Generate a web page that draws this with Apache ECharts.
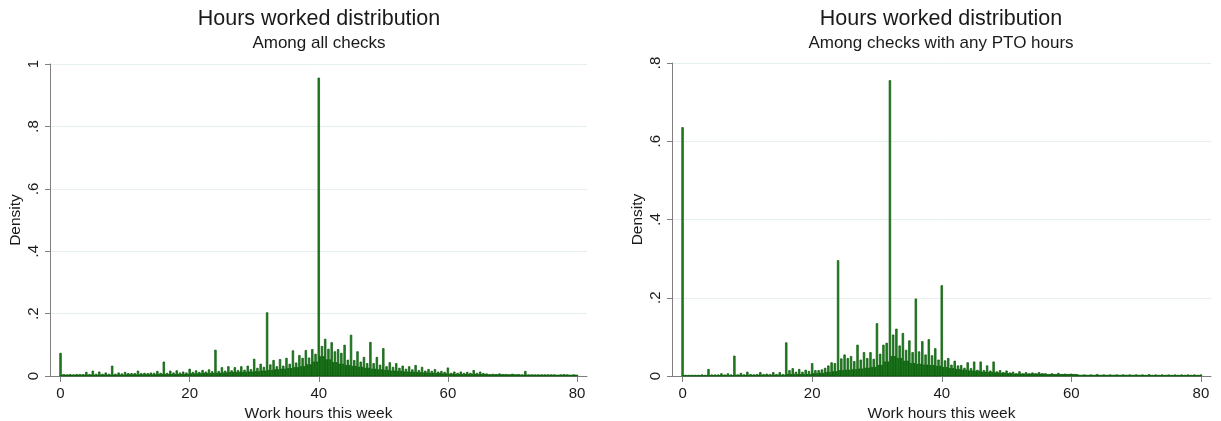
<!DOCTYPE html>
<html>
<head>
<meta charset="utf-8">
<script src="https://cdn.jsdelivr.net/npm/echarts@6/dist/echarts.min.js"></script>
<style>
  html, body { margin: 0; padding: 0; background: #fff; }
  #chart { width: 1221px; height: 421px; }
</style>
</head>
<body>
<div id="chart"></div>
<script>
// Histogram bin width (hours); each hour h has bins at h, h+.25, h+.5, h+.75
const BIN = 0.25;
const xTicks = [0, 20, 40, 60, 80];

// ---- Among all checks ----
// density at whole hours 0..80
const allWhole = [
  0.073, 0.004, 0.004, 0.005, 0.012, 0.016, 0.013, 0.010, 0.032, 0.010,
  0.012, 0.008, 0.016, 0.009, 0.010, 0.015, 0.045, 0.016, 0.017, 0.013,
  0.022, 0.017, 0.018, 0.020, 0.083, 0.027, 0.030, 0.027, 0.030, 0.032,
  0.054, 0.038, 0.203, 0.050, 0.053, 0.057, 0.081, 0.066, 0.082, 0.085,
  0.955, 0.118, 0.107, 0.085, 0.099, 0.131, 0.078, 0.060, 0.108, 0.060,
  0.088, 0.043, 0.040, 0.032, 0.030, 0.034, 0.028, 0.021, 0.021, 0.015,
  0.026, 0.013, 0.013, 0.012, 0.018, 0.013, 0.007, 0.006, 0.007, 0.005,
  0.006, 0.005, 0.015, 0.004, 0.004, 0.004, 0.004, 0.003, 0.005, 0.003,
  0.003
];
// density at half hours 0.5..79.5
const allHalf = [
  0.005, 0.005, 0.005, 0.005, 0.005, 0.006, 0.006, 0.006, 0.006, 0.007,
  0.008, 0.008, 0.008, 0.008, 0.009, 0.009, 0.009, 0.010, 0.010, 0.010,
  0.012, 0.012, 0.013, 0.014, 0.015, 0.016, 0.017, 0.018, 0.019, 0.021,
  0.025, 0.028, 0.036, 0.030, 0.032, 0.038, 0.042, 0.057, 0.058, 0.070,
  0.095, 0.086, 0.078, 0.073, 0.051, 0.050, 0.045, 0.040, 0.040, 0.035,
  0.030, 0.028, 0.025, 0.022, 0.020, 0.018, 0.016, 0.015, 0.013, 0.012,
  0.009, 0.009, 0.009, 0.009, 0.009, 0.008, 0.005, 0.005, 0.005, 0.004,
  0.004, 0.004, 0.004, 0.004, 0.004, 0.004, 0.004, 0.004, 0.004, 0.004
];
// density at quarter hours (h+.25 and h+.75)
const allQuarter = [
  0.003, 0.003, 0.003, 0.003, 0.003, 0.003, 0.003, 0.003, 0.003, 0.003,
  0.004, 0.004, 0.004, 0.004, 0.004, 0.005, 0.005, 0.005, 0.005, 0.005,
  0.007, 0.007, 0.008, 0.008, 0.009, 0.010, 0.011, 0.012, 0.012, 0.013,
  0.014, 0.016, 0.018, 0.020, 0.022, 0.024, 0.027, 0.030, 0.036, 0.045,
  0.062, 0.052, 0.043, 0.038, 0.034, 0.031, 0.028, 0.025, 0.022, 0.020,
  0.018, 0.016, 0.015, 0.013, 0.012, 0.011, 0.010, 0.009, 0.008, 0.007,
  0.006, 0.005, 0.005, 0.005, 0.005, 0.005, 0.004, 0.004, 0.004, 0.004,
  0.004, 0.003, 0.003, 0.003, 0.003, 0.003, 0.003, 0.003, 0.003, 0.003
];

// ---- Among checks with any PTO hours ----
const ptoWhole = [
  0.635, 0.002, 0.002, 0.003, 0.017, 0.003, 0.006, 0.006, 0.051, 0.007,
  0.010, 0.003, 0.009, 0.005, 0.009, 0.009, 0.085, 0.019, 0.017, 0.015,
  0.032, 0.014, 0.020, 0.034, 0.295, 0.054, 0.050, 0.079, 0.060, 0.060,
  0.134, 0.079, 0.755, 0.120, 0.109, 0.090, 0.197, 0.088, 0.093, 0.070,
  0.231, 0.045, 0.038, 0.027, 0.034, 0.036, 0.036, 0.026, 0.036, 0.014,
  0.013, 0.010, 0.011, 0.009, 0.008, 0.009, 0.006, 0.006, 0.007, 0.005,
  0.005, 0.003, 0.003, 0.003, 0.004, 0.003, 0.003, 0.003, 0.003, 0.003,
  0.003, 0.003, 0.004, 0.003, 0.003, 0.003, 0.003, 0.003, 0.003, 0.003,
  0.003
];
const ptoHalf = [
  0.002, 0.002, 0.002, 0.002, 0.003, 0.003, 0.003, 0.003, 0.003, 0.003,
  0.004, 0.004, 0.004, 0.004, 0.004, 0.004, 0.014, 0.010, 0.010, 0.012,
  0.014, 0.016, 0.026, 0.032, 0.044, 0.045, 0.037, 0.041, 0.045, 0.043,
  0.056, 0.084, 0.105, 0.077, 0.066, 0.060, 0.062, 0.054, 0.052, 0.041,
  0.039, 0.028, 0.026, 0.020, 0.019, 0.015, 0.014, 0.013, 0.011, 0.009,
  0.008, 0.006, 0.006, 0.006, 0.006, 0.006, 0.004, 0.004, 0.004, 0.004,
  0.004, 0.002, 0.002, 0.002, 0.002, 0.002, 0.002, 0.002, 0.002, 0.002,
  0.002, 0.002, 0.002, 0.002, 0.002, 0.002, 0.002, 0.002, 0.002, 0.002
];
const ptoQuarter = [
  0.001, 0.001, 0.001, 0.001, 0.001, 0.001, 0.001, 0.001, 0.002, 0.002,
  0.002, 0.002, 0.002, 0.002, 0.002, 0.002, 0.004, 0.004, 0.004, 0.004,
  0.006, 0.007, 0.009, 0.011, 0.014, 0.015, 0.016, 0.018, 0.020, 0.022,
  0.027, 0.036, 0.050, 0.045, 0.038, 0.032, 0.030, 0.028, 0.027, 0.025,
  0.022, 0.019, 0.017, 0.015, 0.013, 0.012, 0.010, 0.009, 0.008, 0.007,
  0.006, 0.005, 0.005, 0.005, 0.005, 0.005, 0.004, 0.004, 0.004, 0.004,
  0.004, 0.002, 0.002, 0.002, 0.002, 0.002, 0.002, 0.002, 0.002, 0.002,
  0.002, 0.0015, 0.0015, 0.0015, 0.0015, 0.0015, 0.0015, 0.0015, 0.0015, 0.0015
];

// Assemble [binCenter, density] pairs from the per-hour arrays
function buildBins(whole, half, quarter) {
  const out = [];
  for (let h = 0; h <= 80; h++) {
    out.push([h, whole[h]]);
    if (h < 80) {
      out.push([h + 0.25, quarter[h]]);
      out.push([h + 0.5, half[h]]);
      out.push([h + 0.75, quarter[h]]);
    }
  }
  return out;
}

const FONT = '"Liberation Sans", Arial, Helvetica, sans-serif';
const TEXT = '#1a1a1a';
const AXIS = '#7f7f7f';

function renderBar(params, api) {
  const x = api.value(0), y = api.value(1);
  const a = api.coord([x - BIN / 2, 0]);
  const b = api.coord([x + BIN / 2, y]);
  return {
    type: 'rect',
    shape: { x: a[0], y: b[1], width: b[0] - a[0], height: a[1] - b[1] },
    style: { fill: '#2a812a', stroke: '#005700', lineWidth: 0.7 }
  };
}

function yFmt(v) {
  const s = String(+v.toFixed(1));
  return s.startsWith('0.') ? s.slice(1) : s;
}

function xAxisFor(gridIndex) {
  return {
    type: 'value', gridIndex, min: -1.63, max: 81.55,
    axisLine: { show: true, onZero: false, lineStyle: { color: AXIS, width: 1 } },
    axisTick: { show: true, length: 6, customValues: xTicks, lineStyle: { color: AXIS } },
    axisLabel: { customValues: xTicks, fontFamily: FONT, fontSize: 15, color: TEXT, margin: 10 },
    splitLine: { show: false },
    name: 'Work hours this week', nameLocation: 'middle', nameGap: 24,
    nameTextStyle: { fontFamily: FONT, fontSize: 15.5, color: TEXT }
  };
}

function yAxisFor(gridIndex, max) {
  return {
    type: 'value', gridIndex, min: 0, max, interval: 0.2,
    axisLine: { show: true, onZero: false, lineStyle: { color: AXIS, width: 1 } },
    axisTick: { show: true, length: 5, lineStyle: { color: AXIS } },
    axisLabel: { rotate: 90, formatter: yFmt, fontFamily: FONT, fontSize: 15, color: TEXT, margin: 9 },
    splitLine: { show: true, lineStyle: { color: '#e6eff0', width: 1 } },
    name: 'Density', nameLocation: 'middle', nameGap: 26,
    nameTextStyle: { fontFamily: FONT, fontSize: 15.5, color: TEXT }
  };
}

function titleAt(x, y, text, size) {
  return {
    text, left: x, top: y, textAlign: 'center', padding: 0,
    textStyle: { fontFamily: FONT, fontSize: size, fontWeight: 'normal', color: TEXT, lineHeight: size + 2 }
  };
}

const chart = echarts.init(document.getElementById('chart'), null, { renderer: 'canvas' });
chart.setOption({
  backgroundColor: '#ffffff',
  animation: false,
  title: [
    titleAt(319, 7, 'Hours worked distribution', 21.5),
    titleAt(319, 34, 'Among all checks', 17),
    titleAt(941, 7, 'Hours worked distribution', 21.5),
    titleAt(941, 34, 'Among checks with any PTO hours', 17)
  ],
  grid: [
    { left: 50, top: 64, width: 537, height: 312, outerBoundsMode: 'none', containLabel: false },
    { left: 672, top: 63, width: 539, height: 313, outerBoundsMode: 'none', containLabel: false }
  ],
  xAxis: [xAxisFor(0), xAxisFor(1)],
  yAxis: [yAxisFor(0, 1), yAxisFor(1, 0.8)],
  series: [
    { type: 'custom', xAxisIndex: 0, yAxisIndex: 0, renderItem: renderBar,
      data: buildBins(allWhole, allHalf, allQuarter), encode: { x: 0, y: 1 } },
    { type: 'custom', xAxisIndex: 1, yAxisIndex: 1, renderItem: renderBar,
      data: buildBins(ptoWhole, ptoHalf, ptoQuarter), encode: { x: 0, y: 1 } }
  ]
});
</script>
</body>
</html>
